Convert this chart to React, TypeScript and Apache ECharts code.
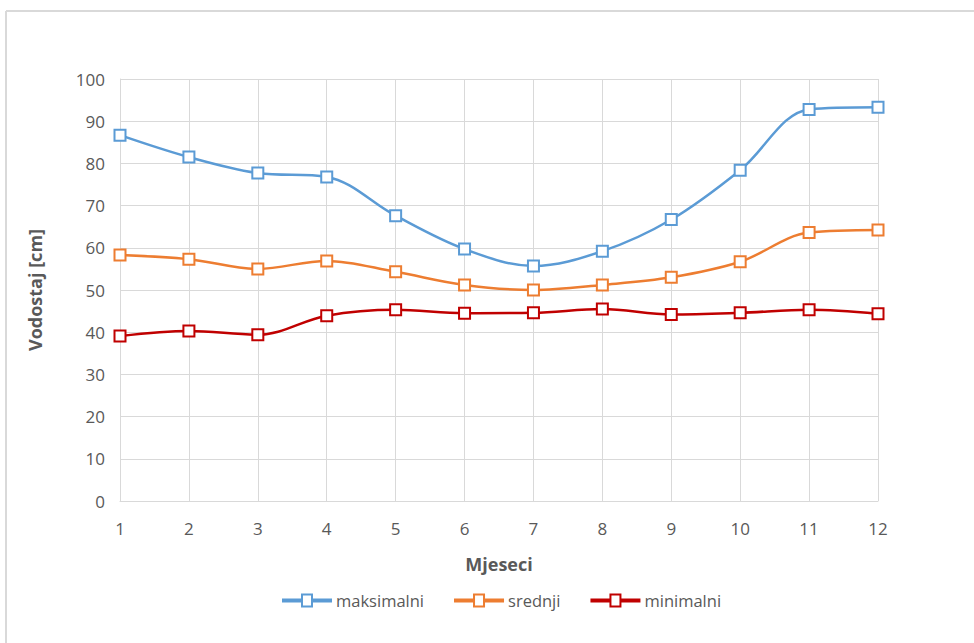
import React, { useEffect, useRef } from "react";
import * as echarts from "echarts";

const months = ["1", "2", "3", "4", "5", "6", "7", "8", "9", "10", "11", "12"];
const maksimalni = [86.7, 81.5, 77.7, 76.8, 67.6, 59.7, 55.7, 59.2, 66.7, 78.4, 92.8, 93.3];
const srednji = [58.3, 57.3, 55.0, 56.9, 54.3, 51.2, 50.0, 51.2, 53.0, 56.7, 63.6, 64.2];
const minimalni = [39.1, 40.3, 39.4, 43.9, 45.3, 44.5, 44.6, 45.5, 44.2, 44.6, 45.3, 44.4];

const seriesNames = ["maksimalni", "srednji", "minimalni"];
const seriesColors = ["#5b9bd5", "#ed7d31", "#c00000"];

const FONT = "'Open Sans', 'Noto Sans', sans-serif";

export default function App() {
  const ref = useRef<HTMLDivElement>(null);
  useEffect(() => {
    if (!ref.current) return;
    const chart = echarts.init(ref.current, undefined, { renderer: "svg" });
    const data = [maksimalni, srednji, minimalni];
    chart.setOption({
      animation: false,
      backgroundColor: "#ffffff",
      textStyle: { fontFamily: FONT },
      graphic: [
        { type: "line", shape: { x1: 6, y1: 11, x2: 974, y2: 11 }, style: { stroke: "#d9d9d9", lineWidth: 2 } },
        { type: "line", shape: { x1: 6, y1: 11, x2: 6, y2: 643 }, style: { stroke: "#d9d9d9", lineWidth: 2 } },
      ],
      grid: { left: 120, right: 96, top: 79, bottom: 142 },
      legend: {
        bottom: 29,
        left: 277,
        itemWidth: 48,
        itemHeight: 12,
        itemGap: 30,
        icon: "path://M0,5 L19,5 L19,0 L29,0 L29,5 L48,5 L48,7 L29,7 L29,12 L19,12 L19,7 L0,7 Z",
        textStyle: { fontSize: 16.5, color: "#595959", fontFamily: FONT },
        data: seriesNames,
      },
      xAxis: {
        type: "category",
        data: months,
        boundaryGap: false,
        name: "Mjeseci",
        nameLocation: "middle",
        nameGap: 54,
        nameTextStyle: { fontSize: 18, fontWeight: "bold", color: "#595959", fontFamily: FONT },
        axisLine: { show: true, lineStyle: { color: "#d9d9d9" } },
        axisTick: { show: false },
        axisLabel: { fontSize: 17, color: "#595959", margin: 19 },
        splitLine: { show: true, lineStyle: { color: "#d9d9d9", width: 1 } },
      },
      yAxis: {
        type: "value",
        min: 0,
        max: 100,
        interval: 10,
        name: "Vodostaj [cm]",
        nameLocation: "middle",
        nameGap: 76,
        nameTextStyle: { fontSize: 18, fontWeight: "bold", color: "#595959", fontFamily: FONT },
        axisLine: { show: true, lineStyle: { color: "#d9d9d9" } },
        axisTick: { show: false },
        axisLabel: { fontSize: 17, color: "#595959", margin: 15 },
        splitLine: { show: true, lineStyle: { color: "#d9d9d9", width: 1 } },
      },
      series: seriesNames.map((name, i) => ({
        name,
        type: "line",
        data: data[i],
        smooth: 0.35,
        symbol: "rect",
        symbolSize: 11,
        showSymbol: true,
        lineStyle: { color: seriesColors[i], width: 2.5 },
        itemStyle: { color: "#ffffff", borderColor: seriesColors[i], borderWidth: 2 },
      })),
    });
    return () => chart.dispose();
  }, []);
  return (
    <div
      ref={ref}
      style={{ position: "fixed", left: 0, top: 0, width: 974, height: 643 }}
    />
  );
}
